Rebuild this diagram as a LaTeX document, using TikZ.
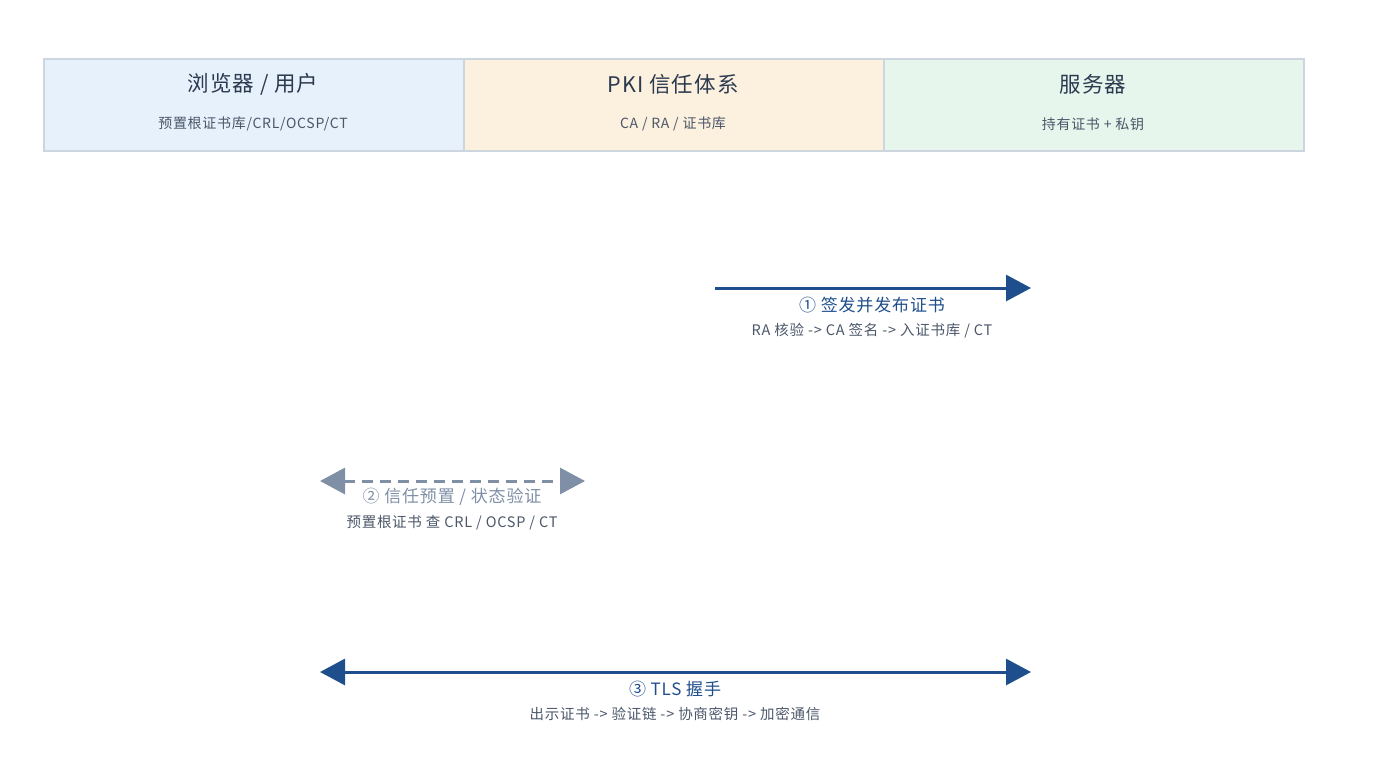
\documentclass[tikz,border=0pt]{standalone}
\usepackage{fontspec}
\setmainfont{Noto Sans CJK SC}[LetterSpace=5]
\usetikzlibrary{arrows.meta,positioning}
\definecolor{navy}{HTML}{1F4E8C}
\definecolor{slate}{HTML}{7F8FA6}
\definecolor{txt}{HTML}{2B3A4F}
\definecolor{edge}{HTML}{CDD6DE}
\definecolor{laneblue}{HTML}{E6F1FB}
\definecolor{laneorange}{HTML}{FCF0DF}
\definecolor{lanegreen}{HTML}{E6F6EC}
\begin{document}
\begin{tikzpicture}[x=1pt,y=-1pt,
        every node/.style={align=center, inner sep=0pt},
        lane/.style={draw=edge, line width=1.8pt, minimum width=420pt, minimum height=92pt, anchor=north west},
        title/.style={font=\fontsize{21.5}{24}\selectfont, text=txt},
        sub/.style={font=\fontsize{14}{16}\selectfont, text=txt!85},
        steplabel/.style={font=\fontsize{17}{20}\selectfont},
        note/.style={font=\fontsize{14.5}{17}\selectfont, text=txt!85},
        every path/.style={line width=3pt}
    ]
    \useasboundingbox (0,0) rectangle (1388,758);

    % Lanes
    \node (browser)[lane, fill=laneblue] at (43,58) {};
    \node (pki)[lane, fill=laneorange] at (463,58) {};
    \node (server)[lane, fill=lanegreen] at (883,58) {};
    \node[title] at (253,84) {浏览器 / 用户};
    \node[sub] at (253,124) {预置根证书库/CRL/OCSP/CT};
    \node[title] at (673,84) {PKI 信任体系};
    \node[sub] at (673,124) {CA / RA / 证书库};
    \node[title] at (1093,84) {服务器};
    \node[sub] at (1093,124) {持有证书 + 私钥};

    % Endpoints
    \coordinate (a1) at (715,288);
    \coordinate (b1) at (1031,288);
    \coordinate (a2) at (320,481);
    \coordinate (b2) at (585,481);
    \coordinate (a3) at (320,672);
    \coordinate (b3) at (1031,672);

    % Edges
    \draw[navy, -{Triangle[length=25pt,width=26pt]}] (a1) -- (b1);
    \draw[slate, dashed, dash pattern=on 11pt off 7pt,
        {Triangle[length=25pt,width=26pt]}-{Triangle[length=25pt,width=26pt]}] (a2) -- (b2);
    \draw[navy, {Triangle[length=25pt,width=26pt]}-{Triangle[length=25pt,width=26pt]}] (a3) -- (b3);

    % Labels
    \node (s1)[steplabel, text=navy] at (872,305) {① 签发并发布证书};
    \node[note, below=7pt of s1] {RA 核验 -> CA 签名 -> 入证书库 / CT};
    \node (s2)[steplabel, text=slate] at (452,497) {② 信任预置 / 状态验证};
    \node[note, below=7pt of s2] {预置根证书\ 查 CRL / OCSP / CT};
    \node (s3)[steplabel, text=navy] at (675,689) {③ TLS 握手};
    \node[note, below=7pt of s3] {出示证书 -> 验证链 -> 协商密钥 -> 加密通信};
\end{tikzpicture}
\end{document}
